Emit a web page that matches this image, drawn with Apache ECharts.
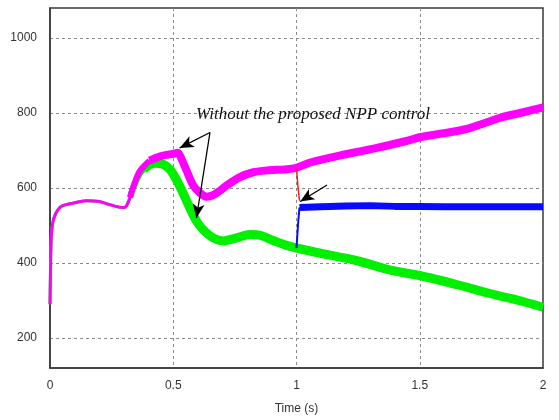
<!DOCTYPE html>
<html>
<head>
<meta charset="utf-8">
<script src="https://cdn.jsdelivr.net/npm/echarts@6/dist/echarts.min.js"></script>
<style>html,body{margin:0;padding:0;background:#fff;}#c{width:559px;height:420px;}</style>
</head>
<body>
<div id="c"></div>
<script>
// ---- data ----
const xTicks = [0, 0.5, 1, 1.5, 2];
const yTicks = [200, 400, 600, 800, 1000];

// magenta: without the proposed NPP control (upper)
const pinkT = [0, 0.003, 0.006, 0.012, 0.024, 0.04, 0.052, 0.09, 0.147, 0.2, 0.24, 0.28, 0.3, 0.31, 0.325, 0.336, 0.364, 0.404, 0.445, 0.479, 0.506, 0.516, 0.526, 0.553, 0.58, 0.608, 0.635, 0.662, 0.69, 0.717, 0.77, 0.825, 0.88, 0.96, 1.0, 1.056, 1.178, 1.313, 1.45, 1.504, 1.68, 1.83, 1.92, 2.0];
const pinkV = [290, 420, 480, 510, 533, 548, 553, 559, 566, 564, 556, 549, 548, 552, 575, 600, 645, 673, 684, 689, 692, 694, 688, 648, 608, 587, 577, 581, 593, 607, 629, 642, 647, 650, 654, 668, 687, 705, 726, 736, 756, 788, 802, 815];

// green: without the proposed NPP control (lower)
const greenT = [0, 0.003, 0.006, 0.012, 0.024, 0.04, 0.052, 0.09, 0.147, 0.2, 0.24, 0.28, 0.3, 0.31, 0.325, 0.336, 0.364, 0.38, 0.404, 0.43, 0.457, 0.486, 0.513, 0.54, 0.567, 0.594, 0.621, 0.662, 0.703, 0.757, 0.811, 0.852, 0.906, 0.96, 1.0, 1.083, 1.246, 1.381, 1.504, 1.653, 1.789, 1.925, 2.0];
const greenV = [290, 420, 480, 510, 533, 548, 553, 559, 566, 564, 556, 549, 548, 552, 575, 598, 638, 650, 662, 666, 664, 650, 622, 586, 547, 512, 489, 467, 459, 467, 476, 474, 460, 447, 440, 428, 406, 381, 366, 342, 318, 296, 282];

// blue: with the proposed NPP control
const blueT = [1.0, 1.003, 1.007, 1.012, 1.02, 1.1, 1.2, 1.3, 1.4, 1.5, 1.6, 1.8, 2.0];
const blueV = [440, 470, 510, 548, 552, 550, 552, 553, 551, 551, 550, 550, 550];

// red: transition segment
const redT = [1.0, 1.005, 1.012];
const redV = [652, 610, 566];

// annotation
const noteText = 'Without the proposed NPP control';
const arrows = [
  [[0.649, 748], [0.526, 707]],
  [[0.649, 748], [0.594, 520]],
  [[1.124, 608], [1.015, 564]]
];

// ---- build ----
function pairs(T, V, lo, hi) {
  const out = [];
  for (let i = 0; i < T.length; i++) if (T[i] >= lo && T[i] <= hi) out.push([T[i], V[i]]);
  return out;
}
function lineSeries(data, color, width, z, smooth) {
  return { type: 'line', data: data, showSymbol: false, symbol: 'none', z: z,
    smooth: smooth === undefined ? 0.3 : smooth,
    lineStyle: { color: color, width: width, join: 'round', cap: 'butt' }, animation: false, silent: true };
}

const PINK = '#ff00ff', GREEN = '#00f000', BLUE = '#0a0aff', RED = '#ff1a1a';

const chart = echarts.init(document.getElementById('c'));
const option = {
  animation: false,
  backgroundColor: '#ffffff',
  grid: { left: 50, right: 16, top: 8, bottom: 47, show: true, borderColor: '#3a3a3a', borderWidth: 1.5, backgroundColor: 'transparent' },
  xAxis: {
    type: 'value', min: 0, max: 2, interval: 0.5,
    name: 'Time (s)', nameLocation: 'middle', nameGap: 35,
    nameTextStyle: { fontFamily: 'Liberation Sans', fontSize: 12, color: '#333' },
    axisLine: { show: true, lineStyle: { color: '#3a3a3a', width: 1.5 } },
    axisTick: { show: false },
    axisLabel: { fontFamily: 'Liberation Sans', fontSize: 12, color: '#333', margin: 12,
      formatter: v => xTicks.indexOf(v) >= 0 ? String(v) : '' },
    splitLine: { show: true, showMinLine: false, showMaxLine: false, lineStyle: { color: '#8a8a8a', type: [3, 3], width: 1 } }
  },
  yAxis: {
    type: 'value', min: 120, max: 1080, splitNumber: 5,
    axisLine: { show: true, lineStyle: { color: '#3a3a3a', width: 1.5 } },
    axisTick: { show: false },
    axisLabel: { fontFamily: 'Liberation Sans', fontSize: 12, color: '#333', margin: 13,
      showMinLabel: false, showMaxLabel: false,
      formatter: v => yTicks.indexOf(v) >= 0 ? String(v) : '' },
    splitLine: { show: true, showMinLine: false, showMaxLine: false, lineStyle: { color: '#8a8a8a', type: [3, 3], width: 1 } }
  },
  series: [
    lineSeries(pairs(greenT, greenV, 0, 0.34), GREEN, 3, 2),
    lineSeries(pairs(greenT, greenV, 0.325, 0.41), GREEN, 6, 2),
    lineSeries(pairs(greenT, greenV, 0.38, 2), GREEN, 9, 2),
    lineSeries(pairs(blueT, blueV, 1.0, 1.012), BLUE, 2, 3, false),
    lineSeries(pairs(blueT, blueV, 1.01, 2), BLUE, 7, 3, false),
    lineSeries(pairs(pinkT, pinkV, 0, 0.34), PINK, 3, 4),
    lineSeries(pairs(pinkT, pinkV, 0.325, 0.41), PINK, 6, 4),
    lineSeries(pairs(pinkT, pinkV, 0.4, 2), PINK, 8, 4),
    Object.assign(lineSeries(pairs(redT, redV, 0, 2), RED, 1.5, 5, false), {
      markLine: {
        silent: true, animation: false,
        symbol: ['none', 'arrow'], symbolSize: [9, 14],
        label: { show: false },
        lineStyle: { color: '#000', width: 1.3, type: 'solid' },
        data: arrows.map(a => [{ coord: a[0] }, { coord: a[1] }])
      }
    })
  ],
  graphic: [{
    type: 'text', left: 196, top: 106, z: 100,
    style: { text: noteText, font: 'italic 17px "Liberation Serif"', fill: '#111' }
  }]
};
chart.setOption(option);
</script>
</body>
</html>
